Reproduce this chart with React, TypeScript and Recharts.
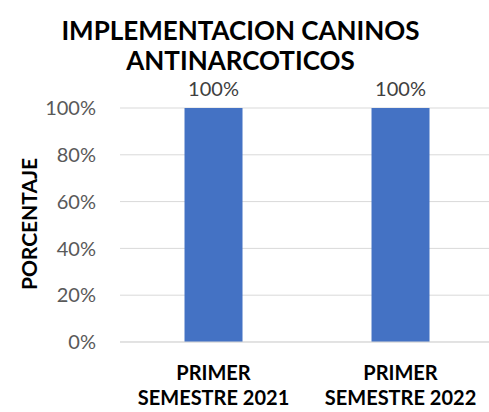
import React from "react";
import { BarChart, Bar, XAxis, YAxis, CartesianGrid, LabelList } from "recharts";

const categories = ["PRIMER SEMESTRE 2021", "PRIMER SEMESTRE 2022"];
const porcentaje = [1, 1];
const yTicks = [0, 0.2, 0.4, 0.6, 0.8, 1];
const edgeTicks = [0, 1, 2];

const data = categories.map((c, i) => ({ name: c, idx: i, value: porcentaje[i] }));

const FONT = "Lato, 'Open Sans', sans-serif";

const pct = (v: number) => `${Math.round(v * 100)}%`;

function CategoryTick(props: any) {
  const { x, y, payload } = props;
  const text: string = payload.value;
  const cut = text.indexOf(" ");
  const lines = [text.slice(0, cut), text.slice(cut + 1)];
  return (
    <text x={x} y={y} textAnchor="middle" fill="#000" fontSize={20} fontWeight={700} fontFamily={FONT}>
      {lines.map((l, i) => (
        <tspan key={i} x={x} dy={i === 0 ? 30 : 25}>
          {l}
        </tspan>
      ))}
    </text>
  );
}

export default function App(): React.ReactElement {
  return (
    <div style={{ position: "absolute", left: 0, top: 0, width: 489, height: 412, background: "#fff", fontFamily: FONT, overflow: "hidden" }}>
      <div
        style={{
          position: "absolute",
          left: 0,
          top: 15,
          width: 481,
          textAlign: "center",
          fontSize: 26,
          fontWeight: 700,
          lineHeight: "30px",
          color: "#000",
        }}
      >
        IMPLEMENTACION CANINOS
        <br />
        ANTINARCOTICOS
      </div>
      <div
        style={{
          position: "absolute",
          left: 28,
          top: 224,
          transform: "translate(-50%, -50%) rotate(-90deg)",
          fontSize: 21,
          fontWeight: 700,
          color: "#000",
          whiteSpace: "nowrap",
        }}
      >
        PORCENTAJE
      </div>
      <BarChart
        width={494}
        height={412}
        data={data}
        margin={{ top: 108, right: 0, bottom: 0, left: 60 }}
        barCategoryGap="34.5%"
        style={{ position: "absolute", left: 0, top: 0 }}
      >
        <CartesianGrid vertical={false} stroke="#d9d9d9" />
        <XAxis
          xAxisId="edges"
          dataKey="idx"
          type="number"
          domain={[0, 2]}
          ticks={edgeTicks}
          height={0}
          axisLine={false}
          tickLine={{ stroke: "#d9d9d9" }}
          tickSize={6}
          tick={false}
        />
        <XAxis
          dataKey="name"
          height={70}
          axisLine={{ stroke: "#d9d9d9" }}
          tickLine={false}
          tick={<CategoryTick />}
          interval={0}
        />
        <YAxis
          domain={[0, 1]}
          ticks={yTicks}
          tickFormatter={pct}
          axisLine={false}
          tickLine={false}
          width={60}
          tickSize={0}
          tickMargin={24}
          tick={{ fontSize: 20, fill: "#595959", fontFamily: FONT }}
        />
        <Bar dataKey="value" fill="#4472c4" isAnimationActive={false}>
          <LabelList
            dataKey="value"
            position="top"
            offset={12}
            formatter={(v: any) => pct(Number(v))}
            style={{ fontSize: 20, fill: "#404040", fontFamily: FONT }}
          />
        </Bar>
      </BarChart>
    </div>
  );
}
